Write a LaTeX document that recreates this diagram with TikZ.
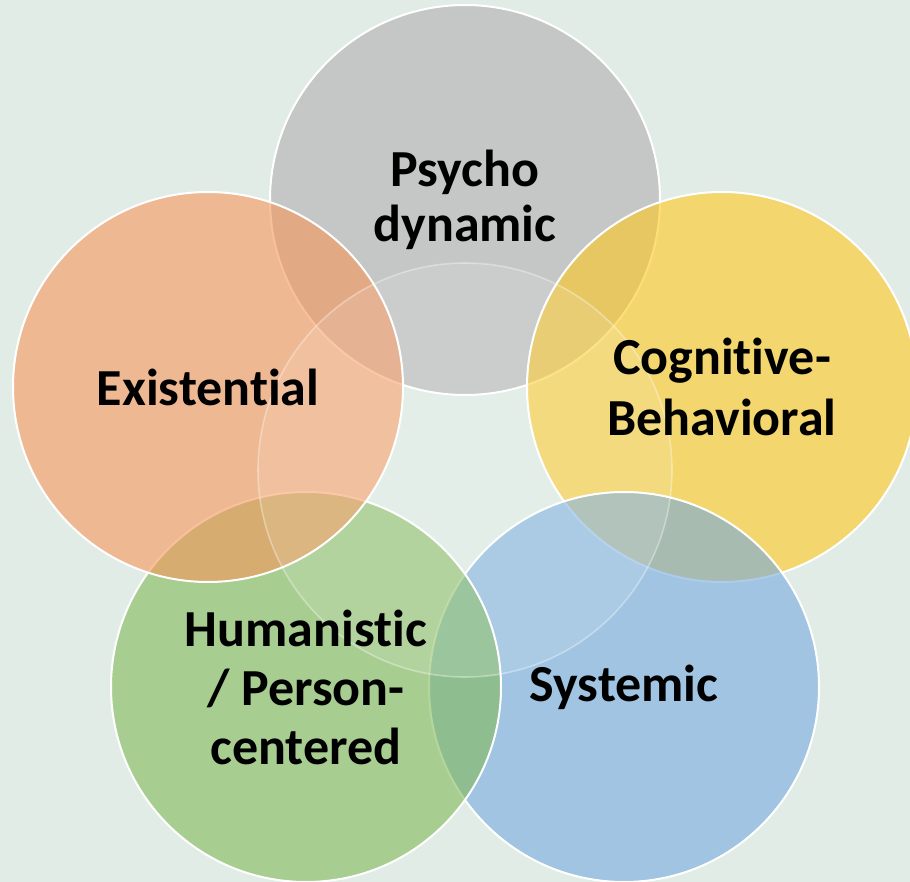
\documentclass[tikz,border=0pt]{standalone}
\usepackage{fontspec}
\setmainfont{Carlito}[RawFeature={-liga;-clig;-calt;-dlig}]
\usetikzlibrary{positioning}
\definecolor{bgc}{RGB}{225,236,230}
\definecolor{psyc}{RGB}{177,175,176}
\definecolor{cogc}{RGB}{255,200,31}
\definecolor{sysc}{RGB}{117,170,222}
\definecolor{humc}{RGB}{131,185,89}
\definecolor{exic}{RGB}{247,150,91}

\begin{document}
\begin{tikzpicture}[x=1pt, y=-1pt, bub/.style={circle, draw=white, line width=2pt, fill opacity=0.6, minimum size=390pt, inner sep=0pt},txt/.style={font=\fontsize{52}{58}\selectfont\bfseries, align=center, text=black}]
  \fill[bgc] (0,0) rectangle (910,882);
  \useasboundingbox (0,0) rectangle (910,882);

  \node[bub, fill=psyc] (psy) at (465,200) {};
  \node[bub, fill=cogc] (cog) at (722,387) {};
  \node[bub, fill=sysc] (sys) at (624,687) {};
  \node[bub, fill=humc] (hum) at (306,687) {};
  \node[bub, fill=exic] (exi) at (208,387) {};

  \node[circle, draw=white, draw opacity=0.35, line width=1.6pt, fill=white, fill opacity=0.12, minimum size=414pt] (mid) at (465,470) {};

  \node[txt] (psyt) at (psy) {Psycho\\[-3pt]dynamic};
  \node[txt] (cogt) at (cog) {Cognitive-\\[3pt]Behavioral};
  \node[txt] (syst) at (sys) {Systemic};
  \node[txt] (humt) at (hum) {Humanistic\\[1pt]/ Person-\\[1pt]centered};
  \node[txt] (exit) at (exi) {Existential};
\end{tikzpicture}
\end{document}
